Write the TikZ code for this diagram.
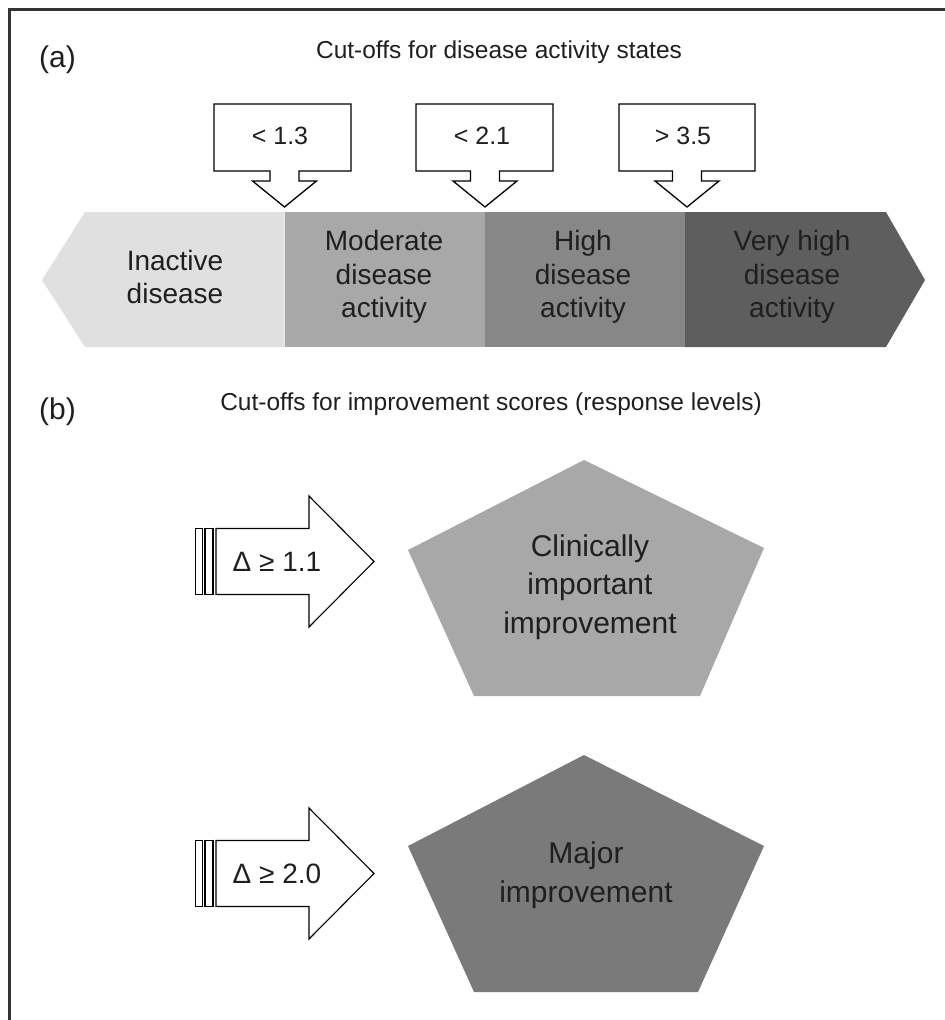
\documentclass[tikz,border=0pt]{standalone}
\usepackage{fontspec}
\setmainfont{Liberation Sans}
\begin{document}
\begin{tikzpicture}[x=1pt,y=-1pt,
  txt/.style={text=black!88, align=center, inner sep=0pt},
  bandtxt/.style={txt, font=\fontsize{28}{33.5}\selectfont},
  pentxt/.style={txt, font=\fontsize{30}{38.5}\selectfont},
  titletxt/.style={txt, font=\fontsize{24.5}{28}\selectfont, anchor=base},
  labtxt/.style={txt, font=\fontsize{30}{34}\selectfont, anchor=base west},
  callout/.style={draw=black, line width=1.3pt, fill=white, line join=miter},
  bigarrow/.style={draw=black, line width=1.1pt, fill=white, line join=miter},
  cuttxt/.style={txt, font=\fontsize{25}{28}\selectfont},
  deltatxt/.style={txt, font=\fontsize{28}{32}\selectfont},
]
\useasboundingbox (0,0) rectangle (945,1020);
% frame
\draw[line width=3pt, black!80] (9.5,1020) -- (9.5,9) -- (945,9);

% ---------- (a) ----------
\node[labtxt] (la) at (39,67) {(a)};
\node[titletxt] (ta) at (499,58) {Cut-offs for disease activity states};

% band
\fill[fill=black!12] (42,280) -- (85,212) -- (284.5,212) -- (284.5,347) -- (85,347) -- cycle;
\fill[fill=black!34] (284.5,212) rectangle (485,347);
\fill[fill=black!47] (485,212) rectangle (685,347);
\fill[fill=black!63] (685,212) -- (886,212) -- (925,280) -- (886,347) -- (685,347) -- cycle;

\node[bandtxt] (s1) at (175,277) {Inactive\\disease};
\node[bandtxt] (s2) at (384,277) {Moderate\\disease\\activity};
\node[bandtxt] (s3) at (583,277) {High\\disease\\activity};
\node[bandtxt] (s4) at (792,277) {Very high\\disease\\activity};

% callouts
\foreach \xa/\xb/\tx in {214/351/284.5, 416/553/485, 619/755/687}{
  \draw[callout] (\xa,104) -- (\xb,104) -- (\xb,171) -- (\tx+14.5,171) -- (\tx+14.5,181)
     -- (\tx+32,181) -- (\tx,207) -- (\tx-32,181) -- (\tx-14.5,181) -- (\tx-14.5,171)
     -- (\xa,171) -- cycle;
}
\node[cuttxt] (c1) at (280,136) {< 1.3};
\node[cuttxt] (c2) at (482,136) {< 2.1};
\node[cuttxt] (c3) at (683,136) {> 3.5};

% ---------- (b) ----------
\node[labtxt] (lb) at (39,419) {(b)};
\node[titletxt] (tb) at (491,410) {Cut-offs for improvement scores (response levels)};

% pentagons
\fill[fill=black!34] (584,460) -- (764,548) -- (700,696) -- (474,696) -- (408,550) -- cycle;
\fill[fill=black!52] (584,755) -- (764,846) -- (698,992) -- (474,992) -- (408,846) -- cycle;
\node[pentxt] (p1) at (590,587) {Clinically\\important\\improvement};
\node[pentxt] (p2) at (586,875) {Major\\improvement};

% block arrows
\foreach \c in {561.5, 873.5}{
  \draw[bigarrow] (195.5,\c-33) rectangle (202.5,\c+33);
  \draw[bigarrow] (205,\c-33) rectangle (213,\c+33);
  \draw[bigarrow] (216,\c-33) -- (309,\c-33) -- (309,\c-65.5) -- (374,\c)
     -- (309,\c+65.5) -- (309,\c+33) -- (216,\c+33) -- cycle;
}
\node[deltatxt] (d1) at (277,561.5) {Δ ≥ 1.1};
\node[deltatxt] (d2) at (277,873.5) {Δ ≥ 2.0};
\end{tikzpicture}
\end{document}
